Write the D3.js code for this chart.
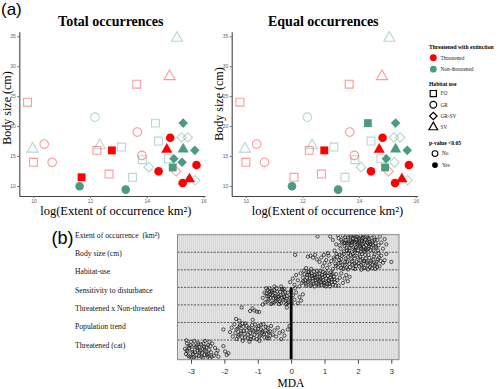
<!DOCTYPE html>
<html><head><meta charset="utf-8">
<script src="https://cdn.jsdelivr.net/npm/d3@7"></script>
<style>body{margin:0;background:#fff}svg{display:block}</style>
</head><body><svg id="c" width="500" height="389"></svg>
<script>
// ---------- Panel (a) data ----------
const eoo      = [15.07,14.81,13.65,9.79,12.17,14.31,15.29,13.67,14.83,15.23,15.45,14.42,10.38,9.97,12.34,13.11,12.24,12.77,14.71,15.29,15.70,13.83,14.77,14.96,15.25,10.0,10.66,14.07,13.85,14.92,15.76,14.42,15.04,12.67,13.5,11.7,15.51,15.71,15.27,11.63,13.26];
const bodySize = [34.7,28.3,27.0,24.0,21.5,20.5,20.5,19.0,18.05,18.1,18.1,17.5,17.0,16.2,16.75,16.5,15.95,15.95,16.1,16.15,15.95,15.1,14.55,14.55,13.95,13.95,13.95,13.15,14.4,13.1,13.5,12.45,12.45,12.0,11.45,11.45,11.15,10.95,10.5,9.95,9.4];
const status   = ["N","T","T","T","N","N","N","T","T","N","N","N","T","N","N","N","T","T","T","N","N","T","N","N","N","T","T","N","N","N","T","T","T","T","N","T","T","N","T","N","N"];
const habitat  = ["SV","SV","FO","FO","GR","FO","GR-SV","GR","GR","GR-SV","GR-SV","FO","GR","SV","SV","FO","FO","FO","SV","SV","GR-SV","GR","FO","GR-SV","GR-SV","FO","GR","GR-SV","FO","FO","GR","GR","GR-SV","FO","FO","FO","SV","GR-SV","GR","GR","GR"];
const sigTotal = [0,0,0,0,0,0,1,0,1,0,0,0,0,0,0,0,0,1,1,1,1,0,0,1,1,0,0,0,0,1,1,1,0,0,0,1,1,0,1,1,1];
const sigEqual = [0,0,0,0,0,1,1,0,1,0,0,0,0,0,0,0,0,1,1,1,1,0,0,1,0,0,0,0,0,1,1,1,0,0,0,0,1,0,1,1,1];
const xTicksA  = [10,12,14,16];
const yTicksA  = [10,15,20,25,30,35];
const statusNames  = ["Threatened","Non-threatened"];
const habitatNames = ["FO","GR","GR-SV","SV"];
const pNames       = ["No","Yes"];

// ---------- Panel (b) data ----------
const variables = ["Extent of occurrence  (km\u00b2)","Body size (cm)","Habitat-use","Sensitivity to disturbance","Threatened x Non-threatened","Population trend","Threatened (cat)"];
const xTicksB = [-3,-2,-1,0,1,2,3];
// pairs: MDA value, position within the row band (0 = row line, 1 = next line)
const mdaExtent = [1.35,.55,1.42,.2,1.48,.8,1.52,.4,1.55,.05,1.6,.65,1.63,.3,1.67,.9,1.7,.15,1.72,.5,1.75,.75,1.78,.35,1.8,.05,1.82,.6,1.85,.25,1.87,.85,1.9,.45,1.92,.1,1.94,.7,1.96,.3,1.98,.55,2.0,.9,2.02,.2,2.04,.4,2.06,.65,2.08,.05,2.1,.8,2.12,.35,2.14,.5,2.16,.15,2.18,.7,2.2,.95,2.22,.3,2.24,.6,2.26,.1,2.28,.45,2.3,.8,2.33,.25,2.36,.55,2.38,.05,2.4,.7,2.43,.35,2.46,.9,2.49,.15,2.52,.5,2.55,.75,2.58,.3,2.62,.6,2.66,.1,2.7,.45,2.75,.8,2.8,.25,1.25,.3,1.3,.9,1.45,.6,1.58,.95,1.88,.02,2.11,.58,1.77,.12,2.35,.4,0.79,.1,1.17,.1,2.85,.55,1.68,.48,1.93,.78,2.27,.88,2.05,.28,1.83,.42,2.15,.02,2.45,.6,1.4,.02,2.6,.9,
  1.5,.3,1.58,.5,1.62,.15,1.66,.75,1.73,.4,1.79,.62,1.86,.35,1.91,.88,1.97,.12,2.01,.48,2.07,.72,2.13,.22,2.19,.4,2.23,.82,2.29,.18,2.34,.66,2.39,.9,2.44,.45,2.5,.28,2.53,.68,1.74,.92,2.09,.97,1.95,.42,2.17,.85,1.61,.45,2.31,.5];
const mdaBody = [0.12,.15,0.5,.25,0.58,.2,0.65,.3,0.72,.15,0.77,.4,0.85,.55,0.9,.3,0.95,.8,1.0,.6,1.05,.45,1.08,.9,1.12,.2,1.15,.7,1.2,.5,1.25,.95,1.28,.3,1.32,.65,1.36,.1,1.4,.85,1.44,.45,1.48,.6,1.52,.2,1.56,.95,1.6,.75,1.64,.35,1.68,.55,1.72,.05,1.76,.85,1.8,.4,1.84,.7,1.88,.2,1.92,.95,1.96,.55,2.0,.3,2.04,.8,2.08,.45,2.12,.1,2.16,.65,2.2,.9,2.24,.35,2.28,.6,2.32,.15,2.36,.85,2.4,.5,2.44,.7,2.48,.25,2.52,.95,2.56,.55,2.6,.4,2.65,.8,2.7,.2,2.75,.6,2.8,.45,2.85,.1,3.0,.55,1.1,.05,1.5,.9,1.9,.65,2.3,.98,1.7,.98,2.1,.99,2.5,.75,1.3,.4,0.98,.15,2.62,.05,1.45,.15,2.18,.5,1.85,.1,
  1.34,.78,1.38,.25,1.42,.62,1.5,.4,1.54,.72,1.58,.1,1.62,.55,1.66,.88,1.7,.28,1.74,.66,1.78,.15,1.82,.52,1.86,.92,1.9,.35,1.94,.78,1.98,.05,2.02,.62,2.06,.25,2.1,.72,2.14,.4,2.18,.88,2.22,.15,2.26,.52,2.3,.75,2.34,.32,2.38,.6,2.42,.92,2.46,.42,2.5,.12,2.54,.65,2.58,.85,2.63,.3,2.68,.5];
const mdaHabitat = [-0.03,.7,0.05,.5,0.1,.85,0.15,.3,0.2,.6,0.25,.95,0.28,.2,0.32,.75,0.35,.45,0.38,.05,0.42,.6,0.45,.9,0.48,.3,0.5,.7,0.53,.15,0.56,.5,0.6,.85,0.62,.35,0.65,.65,0.68,.1,0.7,.95,0.73,.45,0.76,.75,0.78,.25,0.8,.55,0.83,.9,0.86,.4,0.88,.05,0.9,.7,0.93,.3,0.96,.6,0.99,.9,1.02,.2,1.05,.5,1.08,.8,1.1,.35,1.13,.65,1.16,.95,1.19,.15,1.22,.55,1.25,.85,1.28,.4,1.31,.7,1.35,.25,1.38,.6,1.42,.9,1.46,.45,1.5,.2,1.55,.75,1.6,.5,1.65,.3,1.7,.65,1.75,.4,0.45,-.1,0.6,-.05,0.95,.12,0.7,.4,1.0,.75,0.85,.62,0.55,.28,1.2,.3,
  0.36,.65,0.4,.25,0.44,.8,0.47,.45,0.51,.1,0.54,.62,0.58,.92,0.61,.2,0.64,.48,0.67,.78,0.71,.3,0.74,.6,0.77,.05,0.81,.82,0.84,.22,0.87,.5,0.91,.88,0.94,.42,0.97,.72,1.01,.35,1.04,.95,1.07,.15,1.11,.58,1.14,.8,1.18,.42,1.21,.7,1.24,.2,1.29,.55,1.33,.9];
const mdaSensitivity = [-0.85,.6,-0.8,.3,-0.77,.85,-0.73,.5,-0.7,.15,-0.67,.7,-0.63,.4,-0.6,.95,-0.57,.2,-0.53,.6,-0.5,.85,-0.47,.35,-0.43,.05,-0.4,.7,-0.37,.5,-0.33,.25,-0.3,.9,-0.27,.6,-0.23,.4,-0.2,.1,-0.17,.75,-0.13,.5,-0.1,.3,-0.07,.85,-0.03,.6,0.0,.2,0.05,.45,0.1,.7,0.15,.3,0.2,.9,0.25,.55,0.3,.75,0.35,.4,-0.55,.45,-0.45,.62,-0.65,.25,-0.35,.8,-0.25,.15,-0.15,.95,0.02,.9,0.12,.05,-0.5,-.05,-0.3,-.05,-0.85,.98,-0.75,.05,
  -0.74,.35,-0.71,.8,-0.68,.5,-0.65,.05,-0.62,.62,-0.59,.3,-0.56,.88,-0.52,.15,-0.49,.5,-0.46,.78,-0.42,.25,-0.39,.55,-0.36,.95,-0.32,.45,-0.28,.1,-0.24,.7,-0.21,.52,-0.18,.28,-0.14,.65,-0.11,.9];
const mdaInteraction = [-1.48,.15,-1.16,.2,-1.23,.35,-1.1,.32,-1.03,.38,-0.96,.4,-0.13,.15];
const mdaPopulation = [-2.03,.4,-1.83,.55,-1.78,.3,-1.75,.8,-1.7,.1,-1.67,.6,-1.63,.95,-1.6,.35,-1.57,.7,-1.53,.15,-1.5,.5,-1.47,.85,-1.43,.25,-1.4,.65,-1.37,.05,-1.33,.45,-1.3,.9,-1.27,.3,-1.23,.6,-1.2,.8,-1.17,.15,-1.13,.5,-1.1,.7,-1.07,.35,-1.03,.95,-1.0,.55,-0.97,.2,-0.93,.75,-0.9,.4,-0.87,.6,-0.83,.1,-0.8,.85,-0.77,.45,-0.73,.65,-0.7,.3,-0.67,.9,-0.63,.5,-0.6,.2,-0.55,.7,-0.5,.45,-0.45,.8,-0.4,.3,-0.35,.6,-0.3,.95,-0.25,.5,-0.2,.75,-0.1,.4,-0.05,.2,-1.65,-.2,-1.55,-.1,-1.45,1.05,-1.25,1.1,-0.95,1.05,-1.15,-.15,
  -1.64,.4,-1.59,.8,-1.55,.25,-1.51,.62,-1.46,.05,-1.42,.48,-1.38,.85,-1.34,.18,-1.29,.68,-1.25,.35,-1.21,.95,-1.16,.42,-1.12,.88,-1.08,.12,-1.04,.58,-0.99,.35,-0.95,.82,-0.91,.15,-0.86,.5,-0.82,.68,-0.76,.25,-0.72,.9,-0.68,.55,-0.62,.75];
const mdaThreatCat = [-3.18,.5,-3.15,.8,-3.12,.2,-3.1,.65,-3.07,.35,-3.04,.95,-3.0,.1,-2.97,.55,-2.94,.8,-2.91,.3,-2.88,.7,-2.85,1.05,-2.82,.45,-2.79,.15,-2.76,.9,-2.73,.6,-2.7,.25,-2.67,.75,-2.64,1.0,-2.61,.4,-2.58,.05,-2.55,.65,-2.52,.85,-2.49,.3,-2.46,.55,-2.43,1.05,-2.4,.7,-2.36,.2,-2.32,.9,-2.28,.45,-2.24,.75,-2.2,.6,-2.18,.95,-2.03,.35,-1.98,.65,-1.93,.85,-1.88,.75,-3.05,.45,-2.9,.05,-2.75,.4,-2.6,.85,-2.45,.1,-2.98,1.0,-2.8,.6,-2.65,.5,-2.5,.95,-3.14,.02,
  -3.13,.6,-3.08,.9,-3.02,.3,-2.96,.7,-2.92,1.0,-2.87,.4,-2.83,.85,-2.78,.25,-2.74,.7,-2.69,.95,-2.63,.2,-2.59,.6,-2.54,.4,-2.48,.8,-2.42,.35,-2.38,.95];
const mdaRows = [mdaExtent,mdaBody,mdaHabitat,mdaSensitivity,mdaInteraction,mdaPopulation,mdaThreatCat];

// ---------- drawing ----------
const svg = d3.select("#c");
const serif = "'Liberation Serif','Times New Roman',serif";
const sans = "'Liberation Sans',Arial,sans-serif";
const RED = "#ff0000", GREEN = "#4d9a83";
const symType = {"FO": d3.symbolSquare, "GR": d3.symbolCircle, "GR-SV": d3.symbolDiamond2, "SV": d3.symbolTriangle};
const symSize = {"FO": 62, "GR": 58, "GR-SV": 58, "SV": 54};

svg.append("text").attr("x", 1).attr("y", 15).attr("font-family", sans).attr("font-size", 17).text("(a)");

function panelA(x0, x1, sig, title, titleX, yLabX, yLabY, xLabX) {
  const x = d3.scaleLinear().domain([9.5, 16.06]).range([x0, x1]);
  const y = d3.scaleLinear().domain([8.33, 35.75]).range([196, 31.8]);
  const g = svg.append("g");
  const gx = g.append("g").attr("transform", "translate(0,196)")
    .call(d3.axisBottom(x).tickValues(xTicksA).tickFormat(d => String(d)).tickSize(2).tickPadding(1.5).tickSizeOuter(0));
  const gy = g.append("g").attr("transform", `translate(${x0},0)`)
    .call(d3.axisLeft(y).tickValues(yTicksA).tickFormat(d => String(d)).tickSize(2).tickPadding(1.5).tickSizeOuter(0));
  [gx, gy].forEach(a => {
    a.selectAll("text").attr("font-family", sans).attr("font-size", 5).attr("fill", "#666");
    a.selectAll("line").attr("stroke", "#666");
    a.select(".domain").attr("stroke", "#444").attr("stroke-width", 1.1);
  });
  const idx = d3.range(eoo.length);
  const order = idx.filter(i => !sig[i]).concat(idx.filter(i => sig[i]));
  g.selectAll("path.pt").data(order).join("path")
    .attr("class", "pt")
    .attr("transform", i => `translate(${x(eoo[i])},${y(bodySize[i])})`)
    .attr("d", i => d3.symbol(symType[habitat[i]], symSize[habitat[i]])())
    .attr("fill", i => sig[i] ? (status[i] === "T" ? RED : GREEN) : "none")
    .attr("stroke", i => sig[i] ? "none" : (status[i] === "T" ? RED : GREEN))
    .attr("stroke-opacity", 0.4)
    .attr("stroke-width", 1.1);
  svg.append("text").attr("x", titleX).attr("y", 25.5).attr("text-anchor", "middle")
    .attr("font-family", serif).attr("font-weight", "bold").attr("font-size", 14).text(title);
  svg.append("text").attr("transform", `translate(${yLabX},${yLabY}) rotate(-90)`)
    .attr("text-anchor", "middle").attr("font-family", serif).attr("font-size", 12).text("Body size (cm)");
  svg.append("text").attr("x", xLabX).attr("y", 215).attr("text-anchor", "middle")
    .attr("font-family", serif).attr("font-size", 12.5).text("log(Extent of occurrence km\u00b2)");
}
panelA(19.3, 205, sigTotal, "Total occurrences", 110.8, 10.5, 108, 115.8);
panelA(231.7, 417.4, sigEqual, "Equal occurrences", 323.3, 222.5, 104, 327.5);

// legend
const lg = svg.append("g").attr("font-family", serif);
function ltitle(t, yy) { lg.append("text").attr("x", 429).attr("y", yy + 2).attr("font-weight", "bold").attr("font-size", 5.6).text(t); }
function litem(t, yy, tx) { lg.append("text").attr("x", tx || 440.5).attr("y", yy + 1.8).attr("font-size", 5.3).attr("fill", "#222").text(t); }
ltitle("Threatened with extinction", 47.3);
[RED, GREEN].forEach((c, i) => {
  const yy = 57.7 + i * 11.5;
  lg.append("circle").attr("cx", 433.3).attr("cy", yy).attr("r", 3.4).attr("fill", c);
  litem(statusNames[i], yy);
});
ltitle("Habitat use", 84.3);
habitatNames.forEach((h, i) => {
  const yy = 93.6 + i * 11.2;
  lg.append("path").attr("transform", `translate(433.3,${yy})`)
    .attr("d", d3.symbol(symType[h], symSize[h] * 0.62)()).attr("fill", "none").attr("stroke", "#000").attr("stroke-width", 1.2);
  litem(h, yy);
});
ltitle("p-value <0.05", 142.7);
pNames.forEach((p, i) => {
  const yy = 153.6 + i * 11.5;
  lg.append("circle").attr("cx", 435).attr("cy", yy).attr("r", 2.9)
    .attr("fill", i ? "#000" : "none").attr("stroke", "#000").attr("stroke-width", i ? 0 : 1.1);
  litem(p, yy, 442);
});

// ---------- Panel (b) ----------
svg.append("text").attr("x", 51.5).attr("y", 243.5).attr("font-family", sans).attr("font-size", 18).text("(b)");
const bx = d3.scaleLinear().domain([-3, 3]).range([191, 391.3]);
const by = d3.scaleLinear().domain([0, 6]).range([234.7, 340]);
const L = 177.5, R = 399, T = 234.7, B = 359.7;
const gb = svg.append("g");
gb.append("defs").append("clipPath").attr("id", "clipb").append("rect")
  .attr("x", L).attr("y", T).attr("width", R - L).attr("height", B - T);
gb.append("rect").attr("x", L).attr("y", T).attr("width", R - L).attr("height", B - T).attr("fill", "#d8d8d8");
gb.append("g").selectAll("line").data(d3.range(L + 1, R, 2)).join("line")
  .attr("x1", d => d).attr("x2", d => d).attr("y1", T).attr("y2", B)
  .attr("stroke", "#e5e5e5").attr("stroke-width", 0.9);
gb.append("g").selectAll("line").data(d3.range(1, 7)).join("line")
  .attr("x1", L).attr("x2", R).attr("y1", d => by(d)).attr("y2", d => by(d))
  .attr("stroke", "#555").attr("stroke-width", 1).attr("stroke-dasharray", "2,1.3");
gb.append("line").attr("x1", bx(0)).attr("x2", bx(0)).attr("y1", by(3)).attr("y2", B)
  .attr("stroke", "#000").attr("stroke-width", 2.8);
const pts = [];
mdaRows.forEach((arr, r) => { for (let k = 0; k < arr.length; k += 2) pts.push([arr[k], r + arr[k + 1]]); });
gb.append("g").attr("clip-path", "url(#clipb)").selectAll("circle").data(pts).join("circle")
  .attr("cx", d => bx(d[0])).attr("cy", d => by(d[1])).attr("r", 1.65)
  .attr("fill", "none").attr("stroke", "#111").attr("stroke-width", 0.7);
gb.append("rect").attr("x", L).attr("y", T).attr("width", R - L).attr("height", B - T)
  .attr("fill", "none").attr("stroke", "#888").attr("stroke-width", 1);
const ax = gb.append("g").attr("transform", `translate(0,${B})`)
  .call(d3.axisBottom(bx).tickValues(xTicksB).tickFormat(d => String(d)).tickSize(4).tickPadding(5));
ax.select(".domain").remove();
ax.selectAll("line").attr("stroke", "#444");
ax.selectAll("text").attr("font-family", sans).attr("font-size", 8).attr("fill", "#333");
svg.append("text").attr("x", 291).attr("y", 387).attr("text-anchor", "middle")
  .attr("font-family", serif).attr("font-size", 11.5).text("MDA");
const ly = d3.scaleLinear().domain([0, 6]).range([237.5, 347.5]);
svg.append("g").selectAll("text").data(variables).join("text")
  .attr("transform", (d, i) => `translate(75,${ly(i)}) scale(0.9,1)`)
  .attr("font-family", serif).attr("font-size", 8.5).attr("fill", "#111")
  .style("white-space", "pre")
  .text(d => d);
</script></body></html>
